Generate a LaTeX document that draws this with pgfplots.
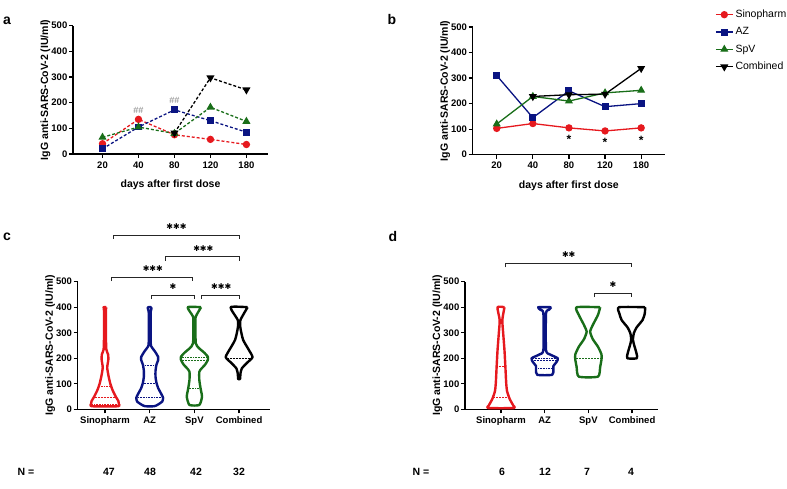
\documentclass[border=0pt]{standalone}
\usepackage{fontspec}
\setmainfont{Liberation Sans}
\newfontfamily\dejavu{DejaVu Sans}
\usepackage{pgfplots}
\pgfplotsset{compat=1.18}
\definecolor{myred}{RGB}{230,25,30}
\definecolor{mynavy}{RGB}{10,20,130}
\definecolor{mygreen}{RGB}{25,110,25}
\tikzset{brk/.style={line width=0.8pt, black!85},
  stars/.style={font=\dejavu\fontsize{8}{9}\selectfont}}
\pgfplotsset{
  gp/.style={scale only axis, axis lines=left, axis line style={-, line width=1.3pt},
    tick style={line width=1.3pt, black}, tick align=outside, major tick length=4pt,
    ymin=0, ymax=500, ytick={0,100,...,500},
    ticklabel style={font=\bfseries\fontsize{9.5}{11}\selectfont},
    yticklabel style={inner xsep=1.5pt},
    /pgf/number format/assume math mode=true,
    ylabel={IgG anti-SARS-CoV-2 (IU/ml)},
    label style={font=\bfseries\fontsize{10.5}{12}\selectfont},
    ylabel style={yshift=-4pt}, xlabel style={yshift=-5pt},
    clip=false},
  sino/.style={color=myred, mark=*, line width=1.3pt, mark size=3pt, mark options={solid}},
  az/.style={color=mynavy, mark=square*, line width=1.3pt, mark size=2.8pt, mark options={solid}},
  spv/.style={color=mygreen, mark=triangle*, line width=1.3pt, mark size=3.4pt, mark options={solid}},
  comb/.style={color=black, mark=triangle*, line width=1.3pt, mark size=3.4pt, mark options={solid, rotate=180}},
  dsh/.style={dash pattern=on 3pt off 2pt},
  vio/.style={line width=2.4pt, smooth, tension=0.35, line join=round, mark=none},
  med/.style={line width=0.7pt, dash pattern=on 2pt off 1pt, mark=none},
  qrt/.style={line width=0.7pt, dash pattern=on 0.8pt off 0.8pt, mark=none},
}
\begin{document}
\begin{tikzpicture}
\path[use as bounding box] (0pt,0pt) rectangle (787pt,489pt);

% ---------- panel a ----------
\begin{axis}[gp, at={(73pt,335pt)}, anchor=south west, width=195pt, height=128.3pt,
  xmin=-0.82, xmax=4.6, xtick={0,...,4}, xticklabels={20,40,80,120,180},
  xlabel={days after first dose}]
\addplot[sino, dsh] coordinates {(0,40)(1,135)(2,75)(3,57)(4,37)};
\addplot[az, dsh] coordinates {(0,20)(1,105)(2,172)(3,130)(4,85)};
\addplot[spv, dsh] coordinates {(0,65)(1,105)(2,80)(3,182)(4,127)};
\addplot[comb, dsh] coordinates {(2,82)(3,297)(4,250)};
\node[gray, font=\fontsize{9}{10}\selectfont] at (axis cs:1,170) {\#\#};
\node[gray, font=\fontsize{9}{10}\selectfont] at (axis cs:2,209) {\#\#};
\end{axis}

% ---------- panel b ----------
\begin{axis}[gp, at={(472.7pt,334.3pt)}, anchor=south west, width=192.3pt, height=127.7pt,
  xmin=-0.665, xmax=4.66, xtick={0,...,4}, xticklabels={20,40,80,120,180},
  xlabel={days after first dose},
  legend style={at={(1.244,1.165)}, anchor=north west, draw=none, fill=none,
    font=\fontsize{10.5}{12}\selectfont, row sep=4.5pt}, legend cell align=left]
\addplot[sino] coordinates {(0,103)(1,122)(2,105)(3,93)(4,105)};
\addplot[az] coordinates {(0,310)(1,145)(2,250)(3,188)(4,200)};
\addplot[spv] coordinates {(0,120)(1,228)(2,210)(3,242)(4,252)};
\addplot[comb] coordinates {(1,228)(2,235)(3,237)(4,338)};
\legend{Sinopharm, AZ, SpV, Combined}
\node[font=\bfseries\fontsize{12}{13}\selectfont] at (axis cs:2,60) {*};
\node[font=\bfseries\fontsize{12}{13}\selectfont] at (axis cs:3,48) {*};
\node[font=\bfseries\fontsize{12}{13}\selectfont] at (axis cs:4,58) {*};
\end{axis}

% ---------- panel c ----------
\begin{axis}[gp, at={(77.7pt,79.7pt)}, anchor=south west, width=192.7pt, height=127.6pt,
  xmin=0.39, xmax=4.7, xtick={1,2,3,4}, xticklabels={Sinopharm,AZ,SpV,Combined}]
\addplot[vio, myred] coordinates {(1.03,400) (1.02,385) (1.02,300) (1.03,235) (1.07,215) (1.075,195) (1.06,178) (1.05,162) (1.08,130) (1.12,100) (1.17,75) (1.24,50) (1.30,32) (1.31,20) (1.30,12)
 (0.70,12) (0.69,20) (0.70,32) (0.76,50) (0.83,75) (0.88,100) (0.92,130) (0.95,162) (0.94,178) (0.925,195) (0.93,215) (0.97,235) (0.98,300) (0.98,385) (0.97,400) (1.03,400)};
\addplot[qrt, myred] coordinates {(0.87,89)(1.13,89)};
\addplot[med, myred] coordinates {(0.77,45)(1.23,45)};
\addplot[qrt, myred] coordinates {(0.72,21)(1.28,21)};
\addplot[vio, mynavy] coordinates {(2.04,400) (2.035,390) (2.022,380) (2.022,262) (2.04,245) (2.12,226) (2.19,205) (2.19,193) (2.15,174) (2.13,150) (2.13,128) (2.15,105) (2.19,83) (2.26,60) (2.30,45) (2.28,30) (2.18,18) (2.10,12)
 (1.90,12) (1.82,18) (1.72,30) (1.70,45) (1.74,60) (1.81,83) (1.85,105) (1.87,128) (1.87,150) (1.85,174) (1.81,193) (1.81,205) (1.88,226) (1.96,245) (1.978,262) (1.978,380) (1.965,390) (1.96,400) (2.04,400)};
\addplot[qrt, mynavy] coordinates {(1.86,171)(2.14,171)};
\addplot[med, mynavy] coordinates {(1.87,102)(2.13,102)};
\addplot[qrt, mynavy] coordinates {(1.74,47)(2.26,47)};
\addplot[vio, mygreen] coordinates {(3.15,400) (3.03,363) (3.025,330) (3.03,259) (3.10,240) (3.22,222) (3.30,206) (3.30,193) (3.24,175) (3.16,160) (3.11,147) (3.11,115) (3.14,80) (3.17,49) (3.11,17)
 (2.89,17) (2.83,49) (2.86,80) (2.89,115) (2.89,147) (2.84,160) (2.76,175) (2.70,193) (2.70,206) (2.78,222) (2.90,240) (2.97,259) (2.975,330) (2.97,363) (2.85,400) (3.15,400)};
\addplot[qrt, mygreen] coordinates {(2.72,202)(3.28,202)};
\addplot[med, mygreen] coordinates {(2.72,190)(3.28,190)};
\addplot[qrt, mygreen] coordinates {(2.87,82)(3.13,82)};
\addplot[vio, black] coordinates {(4.19,400) (4.03,350) (4.03,318) (4.09,272) (4.22,232) (4.30,204) (4.17,181) (4.06,160) (4.03,140) (4.02,118)
 (3.98,118) (3.97,140) (3.94,160) (3.83,181) (3.70,204) (3.78,232) (3.91,272) (3.97,318) (3.97,350) (3.81,400) (4.19,400)};
\addplot[med, black] coordinates {(3.72,200)(4.28,200)};
% brackets
\draw[brk] (axis cs:1.19,668) |- (axis cs:4,683) -- (axis cs:4,668);
\draw[brk] (axis cs:2.35,583) |- (axis cs:4,598) -- (axis cs:4,583);
\draw[brk] (axis cs:1.15,502) |- (axis cs:2.96,517) -- (axis cs:2.96,502);
\draw[brk] (axis cs:2.04,433) |- (axis cs:3,448) -- (axis cs:3,433);
\draw[brk] (axis cs:3.15,433) |- (axis cs:4,448) -- (axis cs:4,433);
\node[stars] at (axis cs:2.6,715) {✱✱✱};
\node[stars] at (axis cs:3.2,631) {✱✱✱};
\node[stars] at (axis cs:2.07,553) {✱✱✱};
\node[stars] at (axis cs:2.52,481) {✱};
\node[stars] at (axis cs:3.6,481) {✱✱✱};
\end{axis}

% ---------- panel d ----------
\begin{axis}[gp, at={(465pt,79.7pt)}, anchor=south west, width=193.3pt, height=127.6pt,
  xmin=0.176, xmax=4.6, xtick={1,2,3,4}, xticklabels={Sinopharm,AZ,SpV,Combined}]
\addplot[vio, myred] coordinates {(1.08,400) (1.03,350) (1.05,298) (1.08,230) (1.10,167) (1.12,100) (1.14,70) (1.20,40) (1.28,15) (1.30,5)
 (0.70,5) (0.72,15) (0.80,40) (0.86,70) (0.88,100) (0.90,167) (0.92,230) (0.95,298) (0.97,350) (0.92,400) (1.08,400)};
\addplot[qrt, myred] coordinates {(0.91,167)(1.09,167)};
\addplot[med, myred] coordinates {(0.82,45)(1.18,45)};
\addplot[vio, mynavy] coordinates {(2.15,400) (2.10,390) (2.03,376) (2.03,232) (2.12,215) (2.30,200) (2.27,185) (2.20,170) (2.20,155) (2.17,135)
 (1.83,135) (1.80,155) (1.80,170) (1.73,185) (1.70,200) (1.88,215) (1.97,232) (1.97,376) (1.90,390) (1.85,400) (2.15,400)};
\addplot[qrt, mynavy] coordinates {(1.73,200)(2.27,200)};
\addplot[med, mynavy] coordinates {(1.75,191)(2.25,191)};
\addplot[qrt, mynavy] coordinates {(1.81,161)(2.19,161)};
\addplot[vio, mygreen] coordinates {(3.27,400) (3.22,370) (3.10,330) (3.04,304) (3.10,275) (3.22,245) (3.30,215) (3.30,195) (3.27,167) (3.22,128)
 (2.78,128) (2.73,167) (2.70,195) (2.70,215) (2.78,245) (2.90,275) (2.96,304) (2.90,330) (2.78,370) (2.73,400) (3.27,400)};
\addplot[med, mygreen] coordinates {(2.72,200)(3.28,200)};
\addplot[vio, black] coordinates {(4.30,400) (4.29,375) (4.24,350) (4.10,320) (4.04,298) (4.02,272) (4.05,250) (4.10,220) (4.11,200)
 (3.89,200) (3.90,220) (3.95,250) (3.98,272) (3.96,298) (3.90,320) (3.76,350) (3.71,375) (3.70,400) (4.30,400)};
\draw[brk] (axis cs:1.11,556) |- (axis cs:3.99,572) -- (axis cs:3.99,556);
\draw[brk] (axis cs:3.13,440) |- (axis cs:3.99,455) -- (axis cs:3.99,440);
\node[stars] at (axis cs:2.55,605) {✱✱};
\node[stars] at (axis cs:3.56,488) {✱};
\end{axis}

% ---------- panel letters and N row ----------
\node[font=\bfseries\fontsize{14}{16}\selectfont] at (7pt,468pt) {a};
\node[font=\bfseries\fontsize{14}{16}\selectfont] at (392pt,469pt) {b};
\node[font=\bfseries\fontsize{14}{16}\selectfont] at (7pt,252pt) {c};
\node[font=\bfseries\fontsize{14}{16}\selectfont] at (393pt,252pt) {d};
\begin{scope}[every node/.style={font=\bfseries\fontsize{10.5}{12}\selectfont}]
\node at (26pt,17pt) {N =};
\node at (109pt,17pt) {47};
\node at (150pt,17pt) {48};
\node at (196pt,17pt) {42};
\node at (239pt,17pt) {32};
\node at (421pt,17pt) {N =};
\node at (502pt,17pt) {6};
\node at (545pt,17pt) {12};
\node at (587pt,17pt) {7};
\node at (631pt,17pt) {4};
\end{scope}
\end{tikzpicture}
\end{document}
